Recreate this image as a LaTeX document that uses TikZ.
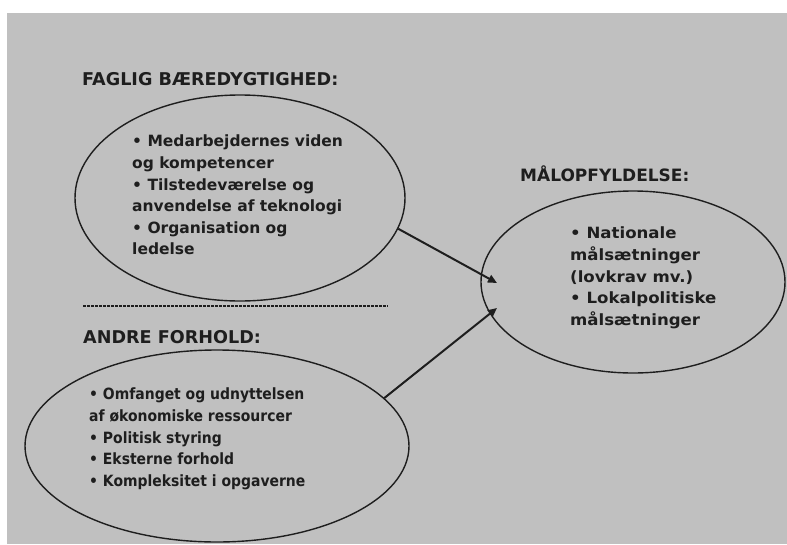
\documentclass[tikz,border=0pt]{standalone}
\usepackage{fontspec}
\setmainfont{DejaVu Sans}
\newfontfamily\narrowfont[FakeStretch=0.9]{DejaVu Sans}
\newfontfamily\widefont[FakeStretch=1.07]{DejaVu Sans}
\usetikzlibrary{arrows.meta,shapes.geometric}
\definecolor{bg}{RGB}{192,192,192}
\definecolor{ink}{RGB}{30,30,30}
\begin{document}
\begin{tikzpicture}[x=1pt,y=-1pt,
  title/.style={anchor=base west,inner sep=0pt,font=\bfseries\fontsize{17.6}{20}\selectfont,text=ink},
  body/.style={anchor=north west,inner sep=0pt,align=left,font=\bfseries\fontsize{15.5}{21.6}\selectfont,text=ink},
  oval/.style={draw=ink,line width=1.4pt,ellipse,inner sep=0pt},
  link/.style={draw=ink,line width=2pt,-{Triangle[length=9pt,width=8pt]}},
  sep/.style={draw=ink,line width=1.5pt,dash pattern=on 3pt off 1pt}]
\useasboundingbox (0,0) rectangle (787,544);
\fill[bg] (7,13) rectangle (787,544);
% ellipses
\node[oval,minimum width=330pt,minimum height=206pt] (fb) at (240,198) {};
\node[oval,minimum width=304pt,minimum height=182pt] (mo) at (633,282) {};
\node[oval,minimum width=384pt,minimum height=192pt] (af) at (217,446) {};
% titles
\node[title] (t1) at (82,85) {FAGLIG BÆREDYGTIGHED:};
\node[title,font=\bfseries\fontsize{17}{20}\selectfont] (t2) at (520,181) {MÅLOPFYLDELSE:};
\node[title] (t3) at (83,343) {ANDRE FORHOLD:};
% bodies
\node[body] (b1) at (132,135) {• Medarbejdernes viden\\og kompetencer\\• Tilstedeværelse og\\anvendelse af teknologi\\• Organisation og\\ledelse};
\node[body,font=\widefont\bfseries\fontsize{15.5}{21.6}\selectfont] (b2) at (570,227) {• Nationale\\målsætninger\\(lovkrav mv.)\\• Lokalpolitiske\\målsætninger};
\node[body,font=\narrowfont\bfseries\fontsize{15.5}{21.6}\selectfont] (b3) at (89,388) {• Omfanget og udnyttelsen\\af økonomiske ressourcer\\• Politisk styring\\• Eksterne forhold\\• Kompleksitet i opgaverne};
% separator
\coordinate (d1) at (83,306);
\coordinate (d2) at (388,306);
\draw[sep] (d1) -- (d2);
% arrows
\coordinate (e1) at (497,283);
\coordinate (e2) at (497,308);
\draw[link] (fb.-11) -- (e1);
\draw[link] (af.16) -- (e2);
\end{tikzpicture}
\end{document}
